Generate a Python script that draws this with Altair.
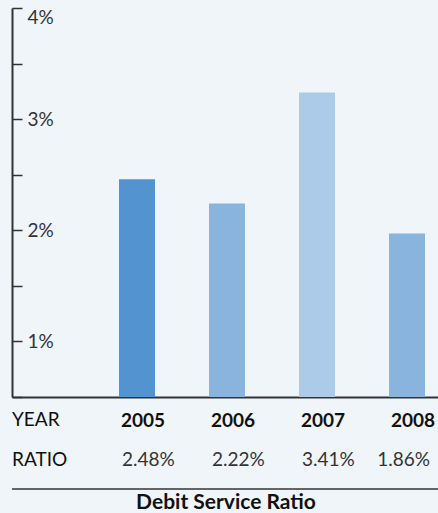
import altair as alt
import pandas as pd

years = ["2005", "2006", "2007", "2008"]
bar_heights = [2.46, 2.24, 3.24, 1.97]          # heights as drawn in the picture
ratio_labels = ["2.48%", "2.22%", "3.41%", "1.86%"]
bar_colors = ["#5393d0", "#89b4de", "#abcbe9", "#89b4de"]
row_headers = ["RATIO"]
y_ticks = [0.5, 1, 1.5, 2, 2.5, 3, 3.5, 4]
title_text = "Debit Service Ratio"

df = pd.DataFrame({"year": years, "value": bar_heights, "ratio": ratio_labels, "color": bar_colors})
hdr = pd.DataFrame({"h": row_headers})

FONT = "Lato"
FS = 19
W, H = 426, 389

xscale = alt.Scale(paddingInner=0.6, paddingOuter=0.6667, align=0.8917)

x_enc = alt.X(
    "year:N",
    sort=years,
    scale=xscale,
    axis=alt.Axis(
        title=None, ticks=False, domainColor="#333333", domainWidth=2,
        labelFont=FONT, labelFontSize=FS, labelFontWeight="bold", labelColor="#111111",
        labelAlign="left", labelOffset=-16, labelPadding=14, labelAngle=0,
    ),
)

bars = alt.Chart(df).mark_bar().encode(
    x=x_enc,
    y=alt.Y(
        "value:Q",
        scale=alt.Scale(domain=[0.5, 4], zero=False, nice=False),
        axis=alt.Axis(
            orient="right", offset=-W, title=None, grid=False,
            values=y_ticks, tickSize=10, tickColor="#333333", tickWidth=1.5,
            domainColor="#333333", domainWidth=2,
            labelExpr="datum.value >= 1 && datum.value % 1 == 0 ? format(datum.value, 'd') + '%' : ''",
            labelFont=FONT, labelFontSize=FS, labelColor="#333333", labelPadding=5,
            labelFlush=True,
        ),
    ),
    y2=alt.datum(0.5),
    color=alt.Color("color:N", scale=None),
)

ratios = alt.Chart(df).transform_filter(alt.datum.year != "2008").mark_text(
    align="left", baseline="middle", font=FONT, fontSize=FS, color="#333333", dx=3
).encode(
    x=alt.X("year:N", sort=years, bandPosition=0),
    y=alt.value(452),
    text="ratio:N",
)

ratios_last = alt.Chart(df).transform_filter(alt.datum.year == "2008").mark_text(
    align="right", baseline="middle", font=FONT, fontSize=FS, color="#333333", dx=5
).encode(
    x=alt.X("year:N", sort=years, bandPosition=1),
    y=alt.value(452),
    text="ratio:N",
)

year_hdr = alt.Chart(hdr).mark_text(
    align="left", baseline="middle", font=FONT, fontSize=FS, color="#111111"
).encode(
    x=alt.value(0), y=alt.value(412), text=alt.value("YEAR"),
)

ratio_hdr = alt.Chart(hdr).mark_text(
    align="left", baseline="middle", font=FONT, fontSize=FS, color="#111111"
).encode(
    x=alt.value(0), y=alt.value(452), text="h:N",
)

rule = alt.Chart(hdr).mark_rule(color="#333333", strokeWidth=1.5).encode(
    x=alt.value(0), x2=alt.value(W), y=alt.value(481),
)

title = alt.Chart(hdr).mark_text(
    align="center", baseline="alphabetic", font=FONT, fontSize=21, fontWeight="bold", color="#111111"
).encode(
    x=alt.value(W / 2 + 1), y=alt.value(501), text=alt.value(title_text),
)

chart = alt.layer(bars, ratios, ratios_last, year_hdr, ratio_hdr, rule, title).properties(
    width=W, height=H,
    autosize=alt.AutoSizeParams(type="none"),
    padding={"left": 12, "top": 8, "right": 0, "bottom": 116},
    background="#f0f5fa",
).configure_view(stroke=None)

chart.save("out.html", embed_options={"renderer": "svg", "actions": False})
